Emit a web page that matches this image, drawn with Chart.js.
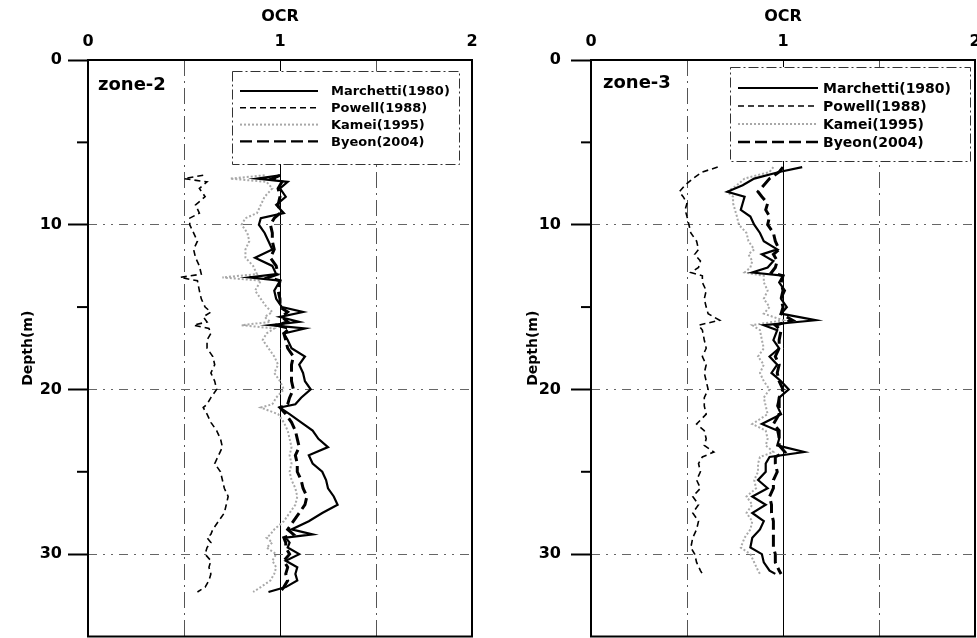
<!DOCTYPE html>
<html>
<head>
<meta charset="utf-8">
<script src="https://cdn.jsdelivr.net/npm/chart.js@4.4.1/dist/chart.umd.min.js"></script>
<style>
  html, body { margin: 0; padding: 0; background: #fff; }
  body { width: 977px; height: 638px; position: relative; overflow: hidden; }
  canvas { position: absolute; top: 0; }
  #chart2 { left: 0; }
  #chart3 { left: 488px; }
</style>
</head>
<body>
<canvas id="chart2" width="488" height="638"></canvas>
<canvas id="chart3" width="489" height="638"></canvas>
<script>
const seriesNames = ['Marchetti(1980)', 'Powell(1988)', 'Kamei(1995)', 'Byeon(2004)'];
const ocrLabels = [0, 1, 2];
const depthLabels = [0, 10, 20, 30];
const depthGrid = [10, 20, 30];
const minorDepthTicks = [5, 15, 25];

// zone-2
const depthZone2 = [7.0, 7.2, 7.4, 7.8, 8.3, 8.8, 9.3, 9.6, 10.0, 10.5,
  11.0, 11.5, 12.0, 12.5, 13.0, 13.2, 13.4, 14.0, 14.5, 15.0,
  15.3, 15.6, 15.9, 16.1, 16.3, 16.6, 17.0, 17.5, 18.0, 18.5,
  19.0, 19.5, 20.0, 20.5, 20.9, 21.1, 21.5, 22.0, 22.5, 23.0,
  23.5, 24.0, 24.5, 25.0, 25.5, 26.0, 26.5, 27.0, 27.5, 28.0,
  28.5, 28.8, 29.0, 29.3, 29.6, 30.0, 30.4, 30.8, 31.2, 31.6,
  32.0, 32.3];
const marchettiZone2 = [1.00, 0.88, 1.04, 1.00, 1.03, 0.98, 1.02, 0.90, 0.89, 0.92,
  0.94, 0.96, 0.87, 0.96, 0.98, 0.84, 1.00, 0.97, 0.98, 1.01,
  1.12, 1.00, 1.10, 0.95, 1.13, 1.02, 1.04, 1.06, 1.13, 1.10,
  1.12, 1.13, 1.16, 1.11, 1.08, 1.00, 1.05, 1.11, 1.17, 1.20,
  1.25, 1.15, 1.17, 1.22, 1.24, 1.25, 1.28, 1.30, 1.22, 1.15,
  1.06, 1.17, 1.03, 1.05, 1.04, 1.10, 1.03, 1.09, 1.08, 1.09,
  1.03, 0.94];
const powellZone2 = [0.60, 0.50, 0.62, 0.58, 0.61, 0.56, 0.58, 0.53, 0.53, 0.55,
  0.57, 0.55, 0.56, 0.58, 0.59, 0.48, 0.57, 0.58, 0.59, 0.61,
  0.64, 0.60, 0.62, 0.55, 0.63, 0.64, 0.62, 0.62, 0.65, 0.66,
  0.64, 0.66, 0.67, 0.64, 0.62, 0.60, 0.62, 0.64, 0.67, 0.69,
  0.70, 0.68, 0.66, 0.69, 0.70, 0.71, 0.73, 0.72, 0.71, 0.68,
  0.65, 0.64, 0.62, 0.64, 0.62, 0.61, 0.64, 0.63, 0.64, 0.63,
  0.61, 0.57];
const kameiZone2 = [0.92, 0.74, 0.93, 0.96, 0.92, 0.90, 0.88, 0.82, 0.80, 0.83,
  0.84, 0.82, 0.82, 0.86, 0.88, 0.70, 0.90, 0.87, 0.90, 0.93,
  0.96, 0.92, 0.95, 0.80, 0.97, 0.93, 0.91, 0.94, 0.97, 0.99,
  0.97, 1.00, 1.02, 0.98, 0.96, 0.90, 0.99, 1.02, 1.04, 1.05,
  1.06, 1.05, 1.06, 1.05, 1.06, 1.08, 1.09, 1.08, 1.05, 1.02,
  0.97, 0.95, 0.93, 0.96, 0.93, 0.98, 0.96, 0.98, 0.97, 0.95,
  0.90, 0.86];
const byeonZone2 = [1.00, 0.96, 1.01, 0.99, 1.00, 0.99, 1.00, 0.97, 0.95, 0.96,
  0.96, 0.97, 0.95, 0.98, 0.99, 0.94, 1.00, 0.99, 1.00, 1.00,
  1.04, 1.01, 1.04, 0.98, 1.05, 1.02, 1.03, 1.04, 1.07, 1.06,
  1.06, 1.06, 1.07, 1.05, 1.04, 1.00, 1.03, 1.06, 1.08, 1.09,
  1.10, 1.08, 1.09, 1.09, 1.11, 1.12, 1.14, 1.13, 1.10, 1.07,
  1.04, 1.07, 1.02, 1.03, 1.03, 1.05, 1.02, 1.04, 1.03, 1.04,
  1.02, 1.00];

// zone-3
const depthZone3 = [6.5, 6.8, 7.2, 7.6, 8.0, 8.3, 8.7, 9.1, 9.5, 10.0,
  10.5, 11.0, 11.5, 11.8, 12.2, 12.6, 12.9, 13.1, 13.5, 14.0,
  14.5, 15.0, 15.4, 15.8, 16.1, 16.4, 17.0, 17.5, 18.0, 18.5,
  19.0, 19.5, 20.0, 20.5, 21.0, 21.5, 22.1, 22.5, 23.0, 23.4,
  23.8, 24.1, 24.5, 25.0, 25.5, 26.0, 26.5, 27.0, 27.5, 28.0,
  28.5, 29.0, 29.6, 30.0, 30.5, 31.0, 31.2];
const marchettiZone3 = [1.10, 0.98, 0.85, 0.79, 0.71, 0.80, 0.79, 0.78, 0.83, 0.85,
  0.88, 0.90, 0.97, 0.89, 0.95, 0.92, 0.84, 1.00, 0.98, 1.01,
  0.99, 1.02, 0.99, 1.17, 0.90, 0.97, 0.95, 0.98, 0.93, 0.97,
  0.94, 0.99, 1.03, 0.98, 0.97, 0.99, 0.89, 0.97, 0.98, 0.97,
  1.11, 0.93, 0.91, 0.91, 0.87, 0.92, 0.84, 0.91, 0.84, 0.90,
  0.88, 0.84, 0.83, 0.89, 0.90, 0.93, 0.96];
const powellZone3 = [0.66, 0.58, 0.53, 0.49, 0.46, 0.48, 0.50, 0.49, 0.50, 0.51,
  0.52, 0.55, 0.56, 0.54, 0.57, 0.56, 0.52, 0.58, 0.58, 0.60,
  0.59, 0.60, 0.61, 0.67, 0.56, 0.58, 0.59, 0.60, 0.58, 0.60,
  0.59, 0.60, 0.61, 0.59, 0.59, 0.60, 0.55, 0.59, 0.60, 0.59,
  0.64, 0.58, 0.56, 0.57, 0.55, 0.57, 0.53, 0.56, 0.53, 0.56,
  0.55, 0.53, 0.52, 0.54, 0.55, 0.57, 0.58];
const kameiZone3 = [0.95, 0.93, 0.80, 0.76, 0.71, 0.74, 0.74, 0.75, 0.76, 0.77,
  0.81, 0.82, 0.85, 0.82, 0.84, 0.83, 0.80, 0.90, 0.90, 0.92,
  0.90, 0.93, 0.90, 1.00, 0.84, 0.88, 0.89, 0.90, 0.87, 0.90,
  0.88, 0.90, 0.93, 0.90, 0.91, 0.92, 0.84, 0.91, 0.92, 0.91,
  0.95, 0.88, 0.87, 0.87, 0.85, 0.86, 0.81, 0.84, 0.81, 0.84,
  0.83, 0.80, 0.78, 0.83, 0.85, 0.87, 0.88];
const byeonZone3 = [1.00, 0.98, 0.93, 0.90, 0.87, 0.89, 0.92, 0.91, 0.93, 0.92,
  0.95, 0.96, 0.98, 0.95, 0.97, 0.96, 0.94, 1.00, 0.99, 1.00,
  0.99, 1.00, 0.99, 1.05, 0.96, 0.99, 0.98, 0.98, 0.96, 0.98,
  0.97, 0.98, 1.00, 0.98, 0.98, 0.98, 0.95, 0.98, 0.98, 0.98,
  1.01, 0.96, 0.96, 0.97, 0.95, 0.95, 0.93, 0.94, 0.94, 0.95,
  0.95, 0.95, 0.95, 0.96, 0.96, 0.98, 0.99];

const FONT = '"DejaVu Sans", Verdana, sans-serif';
Chart.defaults.font.family = FONT;
Chart.defaults.font.weight = 'bold';
Chart.defaults.color = '#000';

const lineStyles = [
  { borderColor: '#000', borderWidth: 2.2, borderDash: [] },
  { borderColor: '#000', borderWidth: 1.6, borderDash: [6, 4] },
  { borderColor: '#a8a8a8', borderWidth: 2, borderDash: [2, 2] },
  { borderColor: '#000', borderWidth: 3, borderDash: [12, 5] }
];

function makeDatasets(depth, series) {
  return seriesNames.map((name, i) => ({
    label: name,
    data: depth.map((d, k) => ({ x: series[i][k], y: d })),
    showLine: true,
    pointRadius: 0,
    tension: 0,
    fill: false,
    ...lineStyles[i]
  }));
}

// frame, minor ticks, zone label and the boxed legend
const panelDecor = {
  id: 'panelDecor',
  afterDraw(chart, args, o) {
    const { ctx, chartArea: a, scales: { y } } = chart;
    ctx.save();
    ctx.strokeStyle = '#000';
    ctx.lineWidth = 2;
    ctx.setLineDash([]);
    ctx.strokeRect(a.left, a.top, a.right - a.left, a.bottom - a.top);
    minorDepthTicks.forEach(d => {
      const py = y.getPixelForValue(d);
      ctx.beginPath();
      ctx.moveTo(a.left - o.minorTick, py);
      ctx.lineTo(a.left, py);
      ctx.stroke();
    });

    ctx.fillStyle = '#000';
    ctx.textBaseline = 'middle';
    ctx.font = 'bold 18px ' + FONT;
    ctx.fillText(o.zone, a.left + o.zoneDx, a.top + o.zoneDy);

    const bx = a.left + o.boxLeft, by = a.top + o.boxTop;
    const bw = a.right - o.boxRight - bx, bh = o.boxH;
    ctx.fillStyle = '#fff';
    ctx.fillRect(bx, by, bw, bh);
    ctx.lineWidth = 1;
    ctx.strokeStyle = '#333';
    ctx.setLineDash([10, 3, 2, 3]);
    ctx.strokeRect(bx + 0.5, by + 0.5, bw, bh);

    ctx.font = 'bold ' + o.fontSize + 'px ' + FONT;
    chart.data.datasets.forEach((ds, i) => {
      const ly = by + o.rowTop + i * o.rowGap;
      ctx.setLineDash(ds.borderDash);
      ctx.lineWidth = Math.min(ds.borderWidth, 2.4);
      ctx.strokeStyle = ds.borderColor;
      ctx.beginPath();
      ctx.moveTo(bx + 8, ly);
      ctx.lineTo(bx + 8 + o.sampleW, ly);
      ctx.stroke();
      ctx.fillStyle = '#000';
      ctx.fillText(ds.label, bx + o.textDx, ly + 1);
    });
    ctx.restore();
  }
};

function makeChart(id, datasets, p) {
  return new Chart(document.getElementById(id), {
    type: 'scatter',
    data: { datasets },
    plugins: [panelDecor],
    options: {
      responsive: false,
      animation: false,
      layout: { padding: { left: 0, right: p.padRight, top: 0, bottom: 1.5 } },
      plugins: {
        legend: { display: false },
        tooltip: { enabled: false },
        panelDecor: p.decor
      },
      scales: {
        x: {
          type: 'linear',
          position: 'top',
          min: 0, max: 2,
          afterFit: s => { s.height = 60; s.paddingLeft = 0; s.paddingRight = 0; },
          title: { display: true, text: 'OCR', font: { size: 16, weight: 'bold' }, padding: { top: 7, bottom: 0 } },
          ticks: {
            stepSize: 0.5, autoSkip: false, maxRotation: 0, padding: 9,
            font: { size: 16, weight: 'bold' },
            callback: v => ocrLabels.includes(v) ? String(v) : ''
          },
          grid: {
            drawTicks: false,
            lineWidth: 1,
            color: c => c.tick.value === 1 ? '#000' : (c.tick.value === 0.5 || c.tick.value === 1.5) ? '#555' : 'rgba(0,0,0,0)'
          },
          border: {
            display: false,
            dash: c => c.tick && (c.tick.value === 0.5 || c.tick.value === 1.5) ? [16, 5, 2, 5] : []
          }
        },
        y: {
          type: 'linear',
          reverse: true,
          min: 0, max: 35,
          afterFit: s => { s.width = p.yWidth; s.paddingTop = 0; s.paddingBottom = 0; },
          title: { display: true, text: 'Depth(m)', font: { size: 14, weight: 'bold' }, padding: { top: p.yTitlePad, bottom: 0 } },
          ticks: {
            stepSize: 5, autoSkip: false, padding: p.yTickPad,
            font: { size: 16, weight: 'bold' },
            callback: v => depthLabels.includes(v) ? String(v) : ''
          },
          grid: {
            tickLength: 20,
            tickWidth: 2,
            lineWidth: 1,
            tickColor: c => depthLabels.includes(c.tick.value) ? '#000' : 'rgba(0,0,0,0)',
            color: c => depthGrid.includes(c.tick.value) ? '#666' : 'rgba(0,0,0,0)'
          },
          border: {
            display: false,
            dash: c => c.tick && depthGrid.includes(c.tick.value) ? [9, 6, 2, 6, 2, 6] : []
          }
        }
      }
    }
  });
}

makeChart('chart2', makeDatasets(depthZone2, [marchettiZone2, powellZone2, kameiZone2, byeonZone2]), {
  padRight: 16, yWidth: 88, yTitlePad: 19.5, yTickPad: 6,
  decor: { zone: 'zone-2', zoneDx: 10, zoneDy: 25, minorTick: 11,
    boxLeft: 144, boxTop: 11, boxRight: 13, boxH: 93,
    rowTop: 20, rowGap: 16.8, sampleW: 78, textDx: 99, fontSize: 13 }
});

makeChart('chart3', makeDatasets(depthZone3, [marchettiZone3, powellZone3, kameiZone3, byeonZone3]), {
  padRight: 2, yWidth: 103, yTitlePad: 36.5, yTickPad: 10,
  decor: { zone: 'zone-3', zoneDx: 12, zoneDy: 23, minorTick: 10,
    boxLeft: 139, boxTop: 7, boxRight: 5, boxH: 94,
    rowTop: 21, rowGap: 18, sampleW: 80, textDx: 93, fontSize: 14 }
});
</script>
</body>
</html>
